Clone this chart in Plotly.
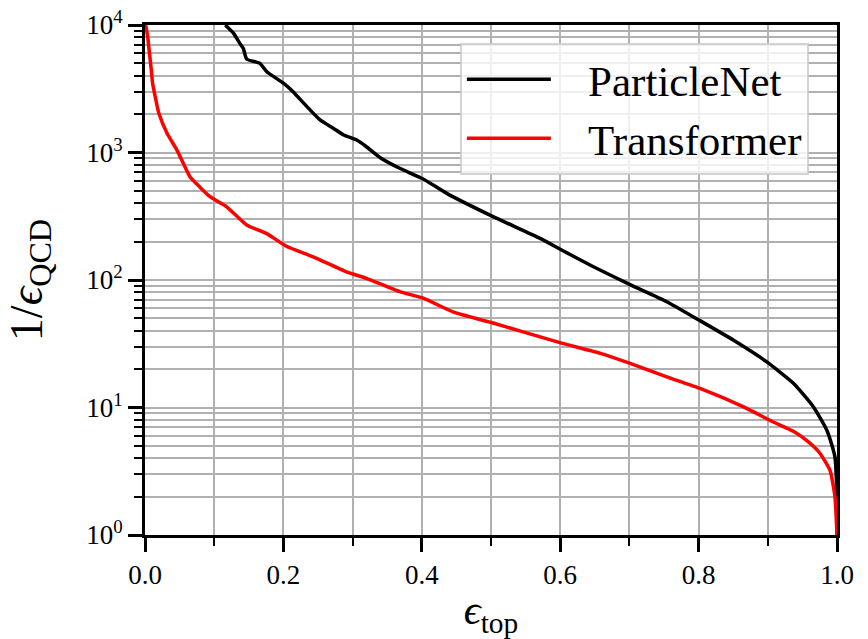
import plotly.graph_objects as go

# ---- data ----
pn_eff = [0.116, 0.128, 0.137, 0.142, 0.147, 0.166, 0.176, 0.200, 0.214, 0.234,
          0.253, 0.272, 0.287, 0.306, 0.320, 0.340, 0.368, 0.402, 0.436, 0.503,
          0.571, 0.602, 0.648, 0.701, 0.754, 0.802, 0.850, 0.898, 0.937, 0.966,
          0.985, 0.993, 0.997, 0.999, 1.000]
pn_rej = [10000, 8600, 7180, 6560, 5400, 5000, 4300, 3500, 3000, 2290,
          1800, 1550, 1372, 1253, 1110, 910, 752, 620, 478, 314,
          212, 172, 127, 92, 67.6, 48, 33.8, 22.9, 15.5, 10.1,
          6.7, 5.0, 4.1, 2.8, 1.0]

tr_eff = [0.001, 0.004, 0.006, 0.009, 0.011, 0.015, 0.020, 0.032, 0.046, 0.065,
          0.079, 0.094, 0.118, 0.147, 0.176, 0.205, 0.243, 0.291, 0.320, 0.368,
          0.402, 0.446, 0.503, 0.602, 0.658, 0.701, 0.754, 0.802, 0.865, 0.908,
          0.937, 0.960, 0.975, 0.990, 0.997, 1.000]
tr_rej = [10000, 8000, 6300, 4500, 3500, 2700, 2030, 1410, 1050, 646,
          537, 450, 375, 270, 231, 183, 152, 116, 103, 81,
          72, 56, 46, 32, 26.6, 22.2, 17.4, 14.1, 10.1, 7.7,
          6.5, 5.3, 4.4, 3.2, 2.0, 1.0]

series_names = ["ParticleNet", "Transformer"]
x_ticks = [0.0, 0.2, 0.4, 0.6, 0.8, 1.0]
x_ticklabels = ["0.0", "0.2", "0.4", "0.6", "0.8", "1.0"]
x_minor = [0.1, 0.3, 0.5, 0.7, 0.9]
y_ticks = [1, 10, 100, 1000, 10000]
y_ticklabels = ["10<sup>0</sup>", "10<sup>1</sup>", "10<sup>2</sup>", "10<sup>3</sup>", "10<sup>4</sup>"]
y_minor = [m * 10 ** k for k in range(4) for m in range(2, 10)]

FONT = "Liberation Serif, DejaVu Serif, serif"
GRID = "#b0b0b0"
PAD = "\u00a0\u00a0\u00a0"

fig = go.Figure()
fig.add_trace(go.Scatter(x=pn_eff, y=pn_rej, mode="lines", name=PAD + series_names[0],
                         line=dict(color="black", width=3.5, shape="spline", smoothing=0.5)))
fig.add_trace(go.Scatter(x=tr_eff, y=tr_rej, mode="lines", name=PAD + series_names[1],
                         line=dict(color="red", width=3.5, shape="spline", smoothing=0.5)))

fig.update_layout(
    width=868, height=639, autosize=False,
    margin=dict(l=145, r=31, t=25, b=104),
    plot_bgcolor="white", paper_bgcolor="white",
    font=dict(family=FONT, color="black", size=27),
    legend=dict(x=0.455, y=0.965, xanchor="left", yanchor="top",
                bgcolor="rgba(255,255,255,0.8)", bordercolor="rgba(200,200,200,0.8)",
                borderwidth=2, font=dict(size=43, family=FONT),
                itemwidth=84, tracegroupgap=0),
)

fig.update_xaxes(
    range=[0, 1], tickvals=x_ticks, ticktext=x_ticklabels, automargin=False,
    ticks="outside", ticklen=14, tickwidth=2.5, tickcolor="black",
    showline=True, linecolor="black", linewidth=3, mirror=True,
    showgrid=True, gridcolor=GRID, gridwidth=1.5, zeroline=False,
    tickfont=dict(size=27),
    minor=dict(tickvals=x_minor, ticks="outside", ticklen=8, tickwidth=2,
               tickcolor="black", showgrid=True, gridcolor=GRID, gridwidth=1.5),
    title=dict(text="<i>ϵ</i><sub>top</sub>", font=dict(size=42), standoff=18),
)
fig.update_yaxes(
    type="log", range=[0, 4], tickvals=y_ticks, ticktext=y_ticklabels, automargin=False,
    ticks="outside", ticklen=14, tickwidth=2.5, tickcolor="black",
    showline=True, linecolor="black", linewidth=3, mirror=True,
    showgrid=True, gridcolor=GRID, gridwidth=1.5, zeroline=False,
    tickfont=dict(size=27),
    minor=dict(tickvals=y_minor, ticks="outside", ticklen=8, tickwidth=2,
               tickcolor="black", showgrid=True, gridcolor=GRID, gridwidth=1.5),
    title=dict(text="1/<i>ϵ</i><sub>QCD</sub>", font=dict(size=46), standoff=30),
)

fig.write_html("out.html")
